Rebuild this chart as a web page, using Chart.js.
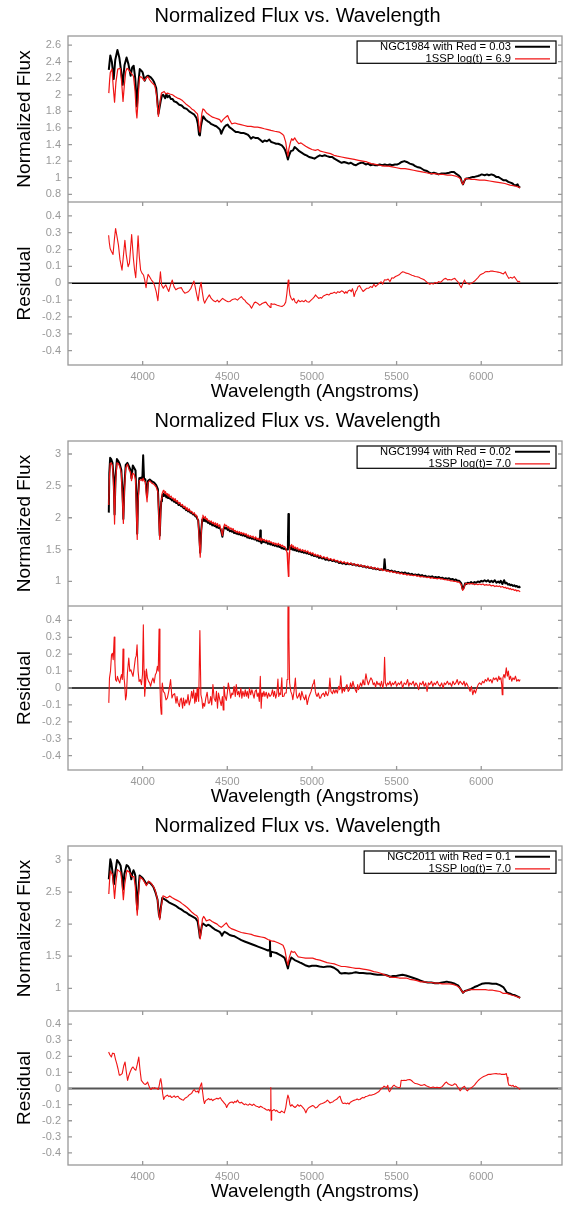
<!DOCTYPE html>
<html>
<head>
<meta charset="utf-8">
<title>Normalized Flux vs. Wavelength</title>
<script src="https://cdn.jsdelivr.net/npm/chart.js@4.4.1/dist/chart.umd.min.js"></script>
<style>
  html, body { margin: 0; padding: 0; background: #fff; overflow: hidden; }
  body { position: relative; width: 563px; height: 1205px; }
  canvas { position: absolute; left: 0; }
</style>
</head>
<body>
<canvas id="flux1" width="595" height="202" style="top:0px"></canvas>
<canvas id="resid1" width="563" height="203" style="top:202px"></canvas>
<canvas id="flux2" width="595" height="201" style="top:405px"></canvas>
<canvas id="resid2" width="563" height="204" style="top:606px"></canvas>
<canvas id="flux3" width="595" height="201" style="top:810px"></canvas>
<canvas id="resid3" width="563" height="194" style="top:1011px"></canvas>
<script>
// ---- data: [wavelength (A), value] ----

// panel 1 : NGC1984 vs 1SSP log(t)=6.9
const ngc1984 = [
  [3800,2.30],[3809,2.475],[3818,2.40],[3829,2.19],[3838,2.42],[3851,2.54],[3862,2.45],[3872,2.30],[3882,2.12],[3893,2.36],
  [3905,2.45],[3916,2.37],[3929,2.23],[3938,2.33],[3947,2.35],[3956,2.20],[3966,1.86],[3975,2.15],[3983,2.31],[3992,2.29],
  [4000,2.27],[4012,2.17],[4022,2.22],[4032,2.23],[4048,2.21],[4060,2.18],[4068,2.15],[4080,2.08],[4088,1.90],[4093,1.77],
  [4100,1.85],[4107,1.93],[4114,1.99],[4121,2.00],[4133,1.96],[4140,2.01],[4147,1.97],[4157,1.99],[4166,1.95],[4176,1.95],
  [4186,1.92],[4200,1.91],[4216,1.88],[4230,1.87],[4245,1.84],[4260,1.83],[4275,1.80],[4290,1.78],[4305,1.76],[4318,1.72],
  [4326,1.65],[4333,1.52],[4338,1.51],[4344,1.62],[4352,1.70],[4358,1.74],[4364,1.72],[4372,1.70],[4384,1.68],[4393,1.67],
  [4403,1.65],[4413,1.64],[4423,1.63],[4435,1.62],[4447,1.60],[4457,1.58],[4464,1.53],[4470,1.56],[4482,1.61],[4492,1.63],
  [4502,1.64],[4512,1.61],[4526,1.59],[4538,1.57],[4551,1.55],[4565,1.55],[4581,1.54],[4595,1.54],[4608,1.53],[4620,1.52],
  [4630,1.50],[4640,1.47],[4652,1.49],[4665,1.48],[4679,1.48],[4692,1.46],[4709,1.43],[4720,1.45],[4734,1.44],[4748,1.46],
  [4760,1.43],[4775,1.42],[4788,1.41],[4800,1.41],[4812,1.40],[4822,1.39],[4834,1.36],[4842,1.33],[4850,1.28],[4858,1.22],
  [4865,1.27],[4875,1.32],[4888,1.33],[4898,1.37],[4910,1.35],[4925,1.32],[4941,1.30],[4955,1.28],[4968,1.27],[4983,1.25],
  [5000,1.24],[5015,1.23],[5030,1.25],[5047,1.27],[5060,1.26],[5075,1.27],[5089,1.26],[5105,1.25],[5120,1.25],[5132,1.23],
  [5150,1.21],[5165,1.19],[5175,1.18],[5190,1.19],[5205,1.18],[5217,1.17],[5230,1.18],[5245,1.16],[5260,1.15],[5275,1.17],
  [5290,1.18],[5302,1.18],[5318,1.16],[5332,1.17],[5345,1.15],[5360,1.16],[5373,1.15],[5387,1.15],[5400,1.16],[5415,1.15],
  [5430,1.16],[5445,1.15],[5460,1.16],[5473,1.15],[5490,1.16],[5505,1.16],[5515,1.17],[5530,1.19],[5546,1.20],[5560,1.19],
  [5578,1.17],[5595,1.16],[5610,1.14],[5621,1.13],[5640,1.12],[5663,1.09],[5680,1.08],[5695,1.06],[5706,1.05],[5720,1.06],
  [5735,1.05],[5748,1.04],[5765,1.05],[5790,1.05],[5810,1.06],[5825,1.07],[5837,1.07],[5850,1.05],[5865,1.03],[5878,1.00],
  [5885,0.95],[5892,0.92],[5900,0.96],[5910,0.99],[5918,0.99],[5935,1.00],[5950,1.01],[5960,1.01],[5980,1.02],[5993,1.03],
  [6003,1.04],[6020,1.03],[6034,1.04],[6045,1.03],[6060,1.04],[6075,1.03],[6088,1.01],[6100,1.01],[6115,0.99],[6130,0.97],
  [6145,0.97],[6160,0.95],[6173,0.94],[6185,0.93],[6195,0.91],[6205,0.91],[6215,0.92],[6222,0.89],[6230,0.88]
];
const ssp69 = [
  [3800,2.02],[3805,2.18],[3809,2.27],[3819,2.31],[3826,2.10],[3834,1.91],[3842,2.15],[3853,2.31],[3868,2.32],[3876,2.15],
  [3884,1.92],[3892,2.12],[3900,2.28],[3908,2.32],[3918,2.30],[3928,2.27],[3937,2.25],[3946,2.22],[3955,2.05],[3962,1.80],
  [3966,1.72],[3972,1.90],[3978,2.12],[3983,2.22],[3995,2.21],[4002,2.19],[4010,2.17],[4020,2.20],[4030,2.22],[4042,2.18],
  [4053,2.15],[4063,2.13],[4072,2.11],[4082,2.00],[4089,1.82],[4093,1.74],[4099,1.85],[4105,1.95],[4111,2.02],[4119,2.03],
  [4127,2.04],[4137,2.01],[4147,2.02],[4160,2.01],[4176,2.00],[4190,1.98],[4206,1.96],[4220,1.95],[4235,1.93],[4255,1.89],
  [4275,1.86],[4290,1.83],[4305,1.81],[4318,1.78],[4324,1.77],[4330,1.68],[4335,1.57],[4338,1.55],[4343,1.65],[4350,1.78],
  [4356,1.83],[4363,1.82],[4370,1.80],[4378,1.78],[4384,1.77],[4398,1.75],[4413,1.73],[4428,1.72],[4443,1.71],[4455,1.70],
  [4464,1.67],[4475,1.70],[4490,1.73],[4502,1.75],[4512,1.70],[4526,1.65],[4545,1.66],[4561,1.65],[4580,1.64],[4600,1.63],
  [4620,1.62],[4640,1.62],[4660,1.61],[4679,1.61],[4700,1.60],[4719,1.59],[4740,1.58],[4758,1.57],[4780,1.56],[4807,1.55],
  [4822,1.53],[4833,1.51],[4845,1.43],[4852,1.33],[4858,1.26],[4864,1.35],[4872,1.42],[4880,1.47],[4888,1.45],[4898,1.48],
  [4910,1.44],[4922,1.41],[4935,1.42],[4948,1.40],[4963,1.38],[4980,1.36],[5000,1.34],[5020,1.33],[5035,1.34],[5050,1.32],
  [5070,1.31],[5090,1.30],[5110,1.29],[5130,1.27],[5150,1.26],[5175,1.25],[5200,1.24],[5225,1.23],[5250,1.22],[5275,1.21],
  [5300,1.20],[5325,1.19],[5350,1.17],[5375,1.16],[5400,1.15],[5425,1.14],[5450,1.14],[5475,1.13],[5500,1.12],[5525,1.11],
  [5550,1.11],[5575,1.10],[5600,1.09],[5625,1.08],[5650,1.07],[5675,1.06],[5700,1.05],[5725,1.05],[5750,1.04],[5775,1.04],
  [5800,1.03],[5825,1.03],[5850,1.02],[5870,1.00],[5882,0.97],[5890,0.92],[5897,0.94],[5905,0.99],[5918,0.99],[5940,0.98],
  [5960,0.98],[5990,0.97],[6020,0.97],[6050,0.96],[6080,0.95],[6110,0.94],[6140,0.93],[6170,0.91],[6200,0.90],[6230,0.88]
];
const resid1984 = [
  [3799,0.285],[3803,0.24],[3808,0.206],[3815,0.19],[3825,0.171],[3833,0.26],[3840,0.325],[3848,0.28],[3857,0.226],[3866,0.14],
  [3878,0.078],[3886,0.16],[3895,0.255],[3903,0.17],[3914,0.098],[3922,0.12],[3935,0.289],[3945,0.15],[3952,0.08],[3959,0.033],
  [3966,0.15],[3973,0.281],[3980,0.16],[3988,0.078],[3996,0.06],[4005,0.049],[4012,0.02],[4020,-0.026],[4026,0.02],[4032,0.053],
  [4040,0.04],[4052,0.019],[4060,0.01],[4069,-0.01],[4080,-0.05],[4090,-0.104],[4097,-0.02],[4105,0.068],[4112,-0.01],[4122,-0.03],
  [4128,-0.02],[4137,-0.01],[4145,-0.03],[4154,-0.049],[4165,-0.01],[4175,0.019],[4185,-0.02],[4196,-0.039],[4210,-0.03],[4228,-0.026],
  [4238,-0.045],[4249,-0.059],[4260,-0.055],[4271,-0.049],[4285,-0.03],[4297,0.0],[4303,0.013],[4310,-0.02],[4320,-0.07],[4328,-0.104],
  [4337,-0.03],[4345,0.005],[4352,-0.05],[4360,-0.10],[4366,-0.118],[4375,-0.10],[4384,-0.085],[4394,-0.069],[4405,-0.09],[4419,-0.104],
  [4430,-0.11],[4441,-0.10],[4451,-0.112],[4462,-0.10],[4472,-0.09],[4483,-0.098],[4495,-0.105],[4505,-0.11],[4515,-0.108],[4525,-0.10],
  [4535,-0.095],[4547,-0.092],[4560,-0.10],[4570,-0.09],[4583,-0.079],[4595,-0.095],[4603,-0.10],[4611,-0.112],[4620,-0.12],[4632,-0.13],
  [4643,-0.148],[4652,-0.13],[4660,-0.115],[4668,-0.112],[4680,-0.12],[4690,-0.13],[4696,-0.128],[4705,-0.12],[4716,-0.115],[4728,-0.112],
  [4740,-0.13],[4750,-0.138],[4753,-0.144],[4758,-0.12],[4766,-0.125],[4781,-0.124],[4795,-0.13],[4810,-0.135],[4823,-0.138],[4835,-0.13],
  [4845,-0.112],[4852,-0.06],[4857,-0.01],[4860,0.019],[4864,-0.02],[4870,-0.07],[4877,-0.089],[4885,-0.10],[4893,-0.09],[4900,-0.11],
  [4909,-0.118],[4920,-0.10],[4930,-0.11],[4941,-0.104],[4952,-0.11],[4962,-0.10],[4972,-0.11],[4983,-0.112],[4995,-0.10],[5006,-0.09],
  [5015,-0.08],[5021,-0.069],[5030,-0.08],[5040,-0.09],[5050,-0.085],[5057,-0.089],[5068,-0.075],[5080,-0.07],[5089,-0.065],[5100,-0.07],
  [5110,-0.06],[5120,-0.06],[5132,-0.053],[5143,-0.06],[5153,-0.05],[5163,-0.055],[5175,-0.045],[5185,-0.05],[5193,-0.06],[5200,-0.05],
  [5207,-0.059],[5215,-0.045],[5225,-0.04],[5232,-0.05],[5239,-0.032],[5244,-0.05],[5249,-0.079],[5258,-0.05],[5265,-0.04],[5272,-0.02],
  [5281,-0.014],[5290,-0.03],[5302,-0.049],[5312,-0.04],[5323,-0.03],[5334,-0.03],[5345,-0.02],[5356,-0.025],[5366,-0.006],[5376,-0.02],
  [5387,-0.01],[5398,0.0],[5409,0.009],[5418,-0.005],[5428,0.02],[5440,0.019],[5450,0.025],[5461,0.01],[5472,0.033],[5482,0.03],
  [5493,0.04],[5504,0.045],[5515,0.05],[5525,0.06],[5536,0.068],[5546,0.065],[5557,0.06],[5567,0.058],[5578,0.053],[5590,0.048],
  [5600,0.045],[5610,0.04],[5621,0.039],[5632,0.035],[5642,0.03],[5653,0.025],[5664,0.02],[5675,0.01],[5686,0.0],[5696,-0.006],
  [5706,0.0],[5716,-0.005],[5727,0.005],[5737,0.0],[5748,0.01],[5759,0.005],[5770,0.015],[5780,0.025],[5791,0.029],[5801,0.02],
  [5812,0.022],[5823,0.019],[5833,0.025],[5844,0.029],[5855,0.015],[5865,0.005],[5875,-0.015],[5882,-0.026],[5888,-0.01],[5894,0.005],
  [5901,0.019],[5908,0.005],[5918,-0.002],[5929,-0.006],[5940,0.0],[5950,0.005],[5961,0.013],[5972,0.025],[5982,0.035],[5993,0.049],
  [6003,0.055],[6014,0.06],[6025,0.068],[6035,0.07],[6046,0.068],[6056,0.072],[6067,0.072],[6077,0.07],[6088,0.068],[6099,0.066],
  [6110,0.064],[6120,0.06],[6131,0.055],[6142,0.068],[6150,0.05],[6156,0.04],[6163,0.029],[6173,0.035],[6184,0.03],[6195,0.039],
  [6205,0.025],[6216,0.009],[6223,0.012],[6230,0.005]
];

// panel 2 : NGC1994 vs 1SSP log(t)=7.0 (shared wavelength grid, rows of ten)
const wave1994 = [
  3800,3803,3808,3814,3822,3829,3834,3840,3848,3856,  3865,3874,3881,3886,3892,3900,3910,3920,3928,3934,
  3942,3950,3958,3964,3968,3973,3980,3992,3998,4003,  4008,4016,4022,4026,4032,4042,4055,4068,4080,4090,
  4097,4101,4106,4110,4114,4118,4122,4126,4130,4135,  4140,4145,4150,4155,4161,4168,4174,4180,4186,4192,
  4198,4205,4212,4220,4227,4235,4242,4250,4256,4262,  4268,4275,4282,4290,4297,4305,4312,4318,4323,4328,
  4334,4340,4346,4352,4356,4360,4365,4370,4375,4380,  4386,4392,4398,4405,4411,4418,4424,4430,4436,4442,
  4448,4455,4460,4465,4471,4478,4484,4490,4496,4502,  4508,4515,4521,4528,4534,4540,4547,4553,4559,4565,
  4572,4578,4584,4590,4597,4605,4611,4618,4624,4630,  4637,4645,4652,4660,4667,4675,4682,4688,4693,4695,
  4698,4702,4707,4712,4718,4725,4732,4740,4747,4755,  4761,4768,4774,4780,4787,4795,4801,4808,4814,4820,
  4826,4832,4839,4845,4853,4858,4861,4864,4870,4875,  4880,4885,4890,4896,4902,4908,4915,4922,4930,4937,
  4945,4952,4960,4967,4975,4982,4990,4997,5005,5012,  5020,5027,5035,5042,5050,5060,5070,5080,5090,5100,
  5110,5120,5130,5140,5150,5160,5170,5180,5190,5200,  5210,5220,5230,5240,5250,5260,5270,5280,5290,5300,
  5310,5320,5330,5340,5350,5360,5370,5380,5390,5400,  5410,5418,5425,5429,5434,5442,5450,5460,5470,5480,
  5490,5500,5510,5520,5530,5540,5550,5560,5570,5580,  5590,5600,5610,5620,5630,5640,5650,5660,5670,5680,
  5690,5700,5710,5720,5730,5740,5750,5760,5770,5780,  5790,5800,5810,5820,5830,5840,5850,5860,5870,5882,
  5890,5896,5905,5912,5920,5930,5940,5950,5960,5970,  5980,5990,6000,6010,6020,6030,6040,6050,6060,6070,
  6080,6090,6100,6108,6115,6125,6135,6142,6150,6158,  6165,6172,6180,6188,6195,6203,6210,6218,6224,6230
];
const flux1994 = [
  2.08,2.70,2.94,2.92,2.86,2.60,2.05,2.65,2.92,2.89,  2.84,2.75,2.40,1.98,2.50,2.83,2.86,2.80,2.75,2.62,
  2.82,2.78,2.74,2.20,1.75,2.35,2.62,2.63,2.60,2.98,  2.62,2.60,2.45,2.33,2.58,2.60,2.57,2.55,2.51,2.45,
  2.00,1.72,2.10,2.26,2.33,2.36,2.34,2.38,2.35,2.36,  2.32,2.34,2.31,2.33,2.30,2.29,2.27,2.28,2.25,2.26,
  2.23,2.24,2.20,2.21,2.18,2.18,2.15,2.15,2.12,2.13,  2.10,2.11,2.08,2.08,2.05,2.05,2.02,2.02,1.98,1.96,
  1.75,1.45,1.80,1.97,1.95,1.99,1.95,1.97,1.94,1.95,  1.92,1.93,1.90,1.92,1.88,1.90,1.87,1.88,1.85,1.87,
  1.84,1.85,1.82,1.78,1.70,1.83,1.85,1.83,1.84,1.81,  1.82,1.79,1.80,1.78,1.79,1.76,1.77,1.75,1.76,1.74,
  1.75,1.73,1.74,1.72,1.73,1.71,1.72,1.69,1.70,1.68,  1.69,1.67,1.68,1.66,1.67,1.64,1.65,1.63,1.66,1.80,
  1.62,1.60,1.64,1.62,1.63,1.61,1.62,1.59,1.60,1.58,  1.59,1.57,1.58,1.56,1.57,1.55,1.56,1.54,1.55,1.52,
  1.53,1.51,1.52,1.50,1.50,1.60,2.06,1.55,1.53,1.51,  1.54,1.50,1.52,1.49,1.51,1.48,1.49,1.47,1.48,1.46,
  1.47,1.45,1.46,1.44,1.45,1.43,1.44,1.41,1.42,1.40,  1.41,1.39,1.40,1.37,1.38,1.36,1.37,1.34,1.35,1.33,
  1.34,1.32,1.33,1.31,1.32,1.29,1.30,1.28,1.29,1.27,  1.28,1.27,1.28,1.26,1.27,1.25,1.26,1.24,1.25,1.23,
  1.24,1.22,1.23,1.21,1.22,1.20,1.21,1.19,1.20,1.18,  1.19,1.18,1.20,1.35,1.18,1.17,1.18,1.16,1.17,1.15,
  1.16,1.14,1.15,1.13,1.14,1.13,1.14,1.12,1.13,1.11,  1.12,1.10,1.11,1.10,1.11,1.09,1.10,1.08,1.09,1.07,
  1.08,1.07,1.08,1.06,1.07,1.06,1.07,1.05,1.06,1.04,  1.05,1.04,1.05,1.03,1.04,1.02,1.03,1.01,1.01,0.97,
  0.88,0.90,0.97,0.96,0.98,0.97,0.99,0.97,0.99,0.98,  1.00,0.99,1.01,1.00,1.02,1.00,1.02,0.99,1.01,0.99,
  1.02,0.98,1.00,0.98,1.01,0.96,1.02,0.97,0.98,0.95,  0.96,0.94,0.95,0.93,0.94,0.92,0.93,0.91,0.92,0.90
];
const ssp70a = [
  2.20,2.60,2.85,2.86,2.82,2.45,1.90,2.55,2.86,2.85,  2.80,2.70,2.25,1.91,2.40,2.78,2.84,2.75,2.72,2.58,
  2.70,2.68,2.60,2.00,1.66,2.25,2.58,2.60,2.58,2.62,  2.58,2.56,2.35,2.25,2.55,2.58,2.54,2.52,2.48,2.40,
  1.90,1.66,2.05,2.30,2.37,2.40,2.43,2.42,2.38,2.41,  2.36,2.38,2.34,2.37,2.32,2.34,2.30,2.31,2.27,2.30,
  2.25,2.27,2.22,2.24,2.19,2.21,2.16,2.18,2.13,2.16,  2.11,2.14,2.09,2.10,2.06,2.08,2.03,2.04,2.00,1.95,
  1.65,1.38,1.75,2.00,2.04,2.01,1.99,2.02,1.97,1.99,  1.95,1.96,1.93,1.95,1.91,1.93,1.89,1.92,1.88,1.91,
  1.86,1.89,1.84,1.80,1.72,1.85,1.90,1.87,1.88,1.84,  1.86,1.82,1.84,1.81,1.83,1.79,1.80,1.77,1.79,1.76,
  1.78,1.75,1.77,1.74,1.76,1.73,1.75,1.71,1.73,1.70,  1.72,1.69,1.71,1.67,1.70,1.66,1.68,1.65,1.67,1.68,
  1.66,1.64,1.67,1.65,1.66,1.63,1.65,1.62,1.64,1.61,  1.62,1.59,1.61,1.58,1.60,1.57,1.60,1.57,1.58,1.55,
  1.57,1.54,1.55,1.52,1.45,1.20,1.08,1.25,1.55,1.56,  1.58,1.53,1.56,1.52,1.54,1.51,1.53,1.49,1.51,1.48,
  1.50,1.47,1.49,1.46,1.48,1.44,1.46,1.43,1.45,1.41,  1.43,1.40,1.42,1.39,1.41,1.37,1.39,1.36,1.38,1.34,
  1.36,1.33,1.35,1.32,1.33,1.30,1.32,1.29,1.31,1.28,  1.30,1.27,1.29,1.26,1.28,1.25,1.27,1.24,1.26,1.23,
  1.25,1.22,1.24,1.21,1.23,1.20,1.22,1.19,1.21,1.18,  1.20,1.17,1.18,1.18,1.18,1.16,1.17,1.15,1.16,1.14,
  1.15,1.13,1.14,1.12,1.13,1.11,1.12,1.10,1.11,1.10,  1.10,1.09,1.10,1.08,1.09,1.07,1.08,1.07,1.07,1.06,
  1.07,1.05,1.06,1.05,1.05,1.04,1.05,1.04,1.04,1.03,  1.03,1.02,1.02,1.01,1.01,1.00,1.00,0.99,0.99,0.95,
  0.86,0.88,0.96,0.97,0.96,0.97,0.96,0.97,0.95,0.96,  0.95,0.96,0.95,0.96,0.94,0.95,0.94,0.95,0.93,0.94,
  0.92,0.93,0.92,0.93,0.91,0.92,0.90,0.91,0.89,0.90,  0.88,0.89,0.87,0.88,0.86,0.87,0.85,0.86,0.85,0.84
];
const resid1994 = [
  [3800,-0.088],[3804,0.059],[3810,0.10],[3816,0.197],[3821,0.205],[3826,0.167],[3832,0.301],[3836,0.15],[3840,0.049],[3846,0.04],
  [3851,0.069],[3858,0.045],[3865,0.03],[3870,0.06],[3875,0.079],[3880,0.05],[3884,0.23],[3889,0.07],[3894,0.02],[3899,-0.07],
  [3904,-0.045],[3910,0.09],[3918,0.177],[3924,0.10],[3930,0.108],[3936,0.09],[3943,0.069],[3950,0.12],[3957,0.177],[3962,0.19],
  [3967,0.256],[3973,0.10],[3979,0.039],[3986,0.05],[3993,0.02],[3999,0.08],[4004,0.374],[4008,0.10],[4012,-0.049],[4017,0.02],
  [4022,0.112],[4028,0.06],[4035,0.039],[4041,0.03],[4047,0.01],[4054,0.04],[4061,0.059],[4068,0.03],[4075,0.079],[4081,0.09],
  [4087,0.128],[4092,0.10],[4097,0.348],[4102,0.03],[4106,-0.108],[4110,-0.155],[4113,-0.02],[4116,0.03],[4122,-0.02],[4130,-0.03],
  [4138,-0.07],[4146,-0.059],[4152,-0.03],[4159,0.01],[4165,0.05],[4173,-0.059],[4180,-0.04],[4189,-0.033],[4197,-0.09],[4203,-0.05],
  [4209,-0.088],[4217,-0.11],[4222,-0.07],[4228,-0.059],[4236,-0.12],[4241,-0.06],[4248,-0.104],[4255,-0.07],[4261,-0.09],[4268,-0.039],
  [4275,-0.10],[4283,-0.069],[4289,-0.02],[4295,-0.06],[4301,-0.01],[4308,-0.09],[4313,-0.03],[4317,-0.079],[4322,0.0],[4326,-0.049],
  [4331,-0.08],[4338,0.34],[4344,-0.04],[4350,-0.069],[4355,-0.12],[4360,-0.09],[4366,-0.108],[4373,-0.06],[4381,-0.025],[4388,-0.09],
  [4395,-0.088],[4402,-0.05],[4408,-0.10],[4415,0.02],[4422,-0.06],[4430,-0.079],[4436,-0.02],[4442,-0.12],[4448,-0.03],[4456,-0.07],
  [4464,-0.104],[4471,-0.05],[4476,-0.13],[4480,0.01],[4487,-0.05],[4494,-0.073],[4500,-0.03],[4506,0.03],[4513,-0.01],[4520,-0.06],
  [4527,-0.03],[4533,-0.039],[4540,0.01],[4547,-0.05],[4553,0.02],[4560,-0.04],[4567,-0.02],[4572,-0.053],[4580,0.0],[4586,-0.06],
  [4592,-0.02],[4600,-0.05],[4606,-0.01],[4612,-0.049],[4618,-0.02],[4625,-0.06],[4631,0.0],[4638,-0.04],[4645,-0.01],[4651,-0.033],
  [4658,-0.06],[4664,-0.02],[4671,-0.01],[4677,-0.05],[4683,-0.03],[4689,-0.08],[4695,0.069],[4700,-0.12],[4705,-0.03],[4710,-0.049],
  [4716,-0.02],[4722,-0.05],[4730,-0.025],[4737,-0.06],[4744,-0.03],[4752,-0.05],[4760,-0.039],[4767,-0.01],[4773,-0.05],[4779,-0.02],
  [4786,-0.06],[4793,-0.03],[4799,0.053],[4804,-0.05],[4810,-0.03],[4815,-0.039],[4822,0.06],[4826,-0.05],[4834,-0.049],[4840,-0.03],
  [4848,-0.03],[4853,0.05],[4858,0.40],[4861,0.97],[4864,0.30],[4868,0.03],[4875,-0.02],[4882,-0.039],[4887,-0.069],[4894,-0.02],
  [4902,0.059],[4908,-0.04],[4913,-0.06],[4919,-0.05],[4926,-0.03],[4933,-0.07],[4940,-0.02],[4948,-0.05],[4957,-0.069],[4964,-0.04],
  [4972,-0.098],[4980,-0.06],[4987,-0.04],[4995,-0.02],[5004,0.019],[5010,0.03],[5014,0.049],[5020,-0.02],[5025,-0.04],[5030,-0.05],
  [5038,-0.03],[5045,-0.06],[5051,-0.059],[5058,-0.04],[5068,-0.03],[5075,-0.05],[5082,-0.02],[5088,-0.04],[5093,-0.045],[5100,-0.02],
  [5106,0.059],[5112,-0.02],[5121,-0.034],[5128,-0.01],[5135,-0.03],[5142,-0.01],[5150,-0.03],[5158,0.01],[5164,-0.01],[5170,0.072],
  [5174,0.02],[5178,-0.03],[5185,0.0],[5192,-0.02],[5199,0.005],[5207,0.02],[5214,-0.02],[5221,-0.01],[5228,0.03],[5235,0.0],
  [5242,0.039],[5249,0.01],[5256,-0.01],[5263,-0.026],[5270,0.02],[5275,-0.01],[5280,0.005],[5287,0.03],[5294,0.01],[5302,0.049],
  [5308,0.02],[5313,0.04],[5319,0.084],[5325,0.05],[5333,0.019],[5340,0.04],[5348,0.06],[5355,0.049],[5362,0.02],[5369,0.03],
  [5376,0.005],[5383,0.04],[5390,0.02],[5397,0.029],[5404,0.01],[5411,0.04],[5418,0.0],[5424,0.03],[5429,0.182],[5434,0.03],
  [5440,0.01],[5447,0.03],[5454,0.02],[5461,0.04],[5468,0.01],[5475,0.03],[5482,0.02],[5493,0.04],[5500,0.01],[5510,0.03],
  [5518,0.02],[5528,0.04],[5535,0.0],[5545,0.03],[5555,0.02],[5565,0.05],[5572,0.01],[5578,0.03],[5588,0.02],[5598,0.04],
  [5606,0.01],[5614,0.03],[5621,0.02],[5630,-0.01],[5638,0.03],[5648,0.02],[5656,0.04],[5663,0.01],[5672,0.03],[5680,-0.02],
  [5688,0.03],[5696,0.02],[5706,0.04],[5714,0.01],[5722,0.03],[5730,0.02],[5740,0.04],[5748,0.02],[5757,0.01],[5766,0.03],
  [5775,0.0],[5782,0.03],[5790,0.02],[5800,0.04],[5808,0.02],[5816,0.03],[5825,0.01],[5833,0.04],[5842,0.02],[5850,0.03],
  [5858,0.05],[5866,0.02],[5875,0.04],[5882,0.03],[5890,0.02],[5898,0.04],[5905,0.01],[5912,0.03],[5918,0.02],[5926,0.0],
  [5934,-0.02],[5942,0.01],[5950,-0.04],[5958,-0.01],[5966,-0.03],[5974,0.0],[5982,0.02],[5990,0.03],[6000,0.02],[6008,0.04],
  [6016,0.03],[6024,0.05],[6032,0.04],[6040,0.06],[6048,0.04],[6056,0.05],[6064,0.03],[6072,0.06],[6080,0.05],[6088,0.06],
  [6096,0.04],[6104,0.07],[6109,0.05],[6116,0.06],[6121,0.02],[6124,-0.04],[6128,0.06],[6134,0.08],[6140,0.06],[6148,0.12],
  [6154,0.07],[6160,0.10],[6166,0.05],[6173,0.07],[6180,0.04],[6187,0.06],[6195,0.05],[6202,0.07],[6210,0.04],[6218,0.05],
  [6224,0.04],[6230,0.05]
];

// panel 3 : NGC2011 vs 1SSP log(t)=7.0
const ngc2011 = [
  [3800,2.70],[3809,3.01],[3815,2.95],[3821,2.83],[3830,2.62],[3838,2.80],[3849,3.00],[3860,2.96],[3870,2.91],[3878,2.75],
  [3884,2.54],[3892,2.78],[3905,2.92],[3915,2.90],[3923,2.86],[3933,2.70],[3940,2.80],[3946,2.84],[3952,2.80],[3957,2.75],
  [3963,2.45],[3968,2.23],[3974,2.50],[3982,2.76],[3990,2.74],[4000,2.72],[4010,2.68],[4022,2.62],[4035,2.66],[4045,2.64],
  [4055,2.61],[4065,2.57],[4075,2.50],[4088,2.38],[4096,2.15],[4101,2.10],[4107,2.25],[4116,2.41],[4128,2.39],[4140,2.37],
  [4155,2.34],[4170,2.32],[4185,2.30],[4199,2.28],[4214,2.25],[4228,2.23],[4243,2.20],[4258,2.18],[4272,2.15],[4287,2.13],
  [4300,2.11],[4313,2.09],[4325,2.04],[4333,1.90],[4338,1.79],[4344,1.88],[4350,1.98],[4356,2.01],[4366,1.99],[4376,1.97],
  [4386,1.99],[4396,1.98],[4410,1.95],[4425,1.92],[4440,1.90],[4455,1.88],[4463,1.85],[4469,1.82],[4476,1.86],[4484,1.88],
  [4498,1.86],[4514,1.83],[4528,1.82],[4543,1.81],[4563,1.78],[4583,1.75],[4602,1.73],[4622,1.71],[4641,1.69],[4661,1.67],
  [4681,1.65],[4701,1.63],[4720,1.61],[4740,1.59],[4750,1.60],[4752,1.74],[4754,1.50],[4758,1.57],[4775,1.56],[4790,1.55],
  [4805,1.53],[4819,1.51],[4830,1.49],[4839,1.47],[4848,1.40],[4858,1.31],[4866,1.40],[4878,1.48],[4888,1.46],[4898,1.44],
  [4915,1.42],[4930,1.40],[4940,1.39],[4960,1.36],[4983,1.34],[5000,1.35],[5025,1.35],[5045,1.34],[5068,1.33],[5090,1.34],
  [5110,1.34],[5130,1.32],[5153,1.28],[5165,1.24],[5174,1.23],[5195,1.24],[5217,1.23],[5240,1.24],[5259,1.25],[5280,1.24],
  [5302,1.24],[5325,1.23],[5344,1.23],[5365,1.22],[5387,1.21],[5410,1.21],[5430,1.21],[5445,1.20],[5461,1.18],[5475,1.19],
  [5493,1.19],[5510,1.20],[5535,1.21],[5555,1.20],[5578,1.18],[5600,1.16],[5621,1.14],[5642,1.12],[5663,1.10],[5685,1.09],
  [5706,1.09],[5727,1.08],[5748,1.08],[5770,1.09],[5790,1.10],[5801,1.10],[5820,1.09],[5844,1.07],[5865,1.04],[5880,0.98],
  [5892,0.93],[5905,0.96],[5918,0.97],[5940,0.99],[5960,1.02],[5980,1.04],[6003,1.07],[6025,1.08],[6045,1.08],[6065,1.07],
  [6088,1.07],[6110,1.05],[6130,1.02],[6140,0.98],[6152,0.93],[6168,0.92],[6184,0.90],[6200,0.89],[6216,0.87],[6230,0.85]
];
const ssp70b = [
  [3800,2.47],[3805,2.70],[3809,2.83],[3815,2.80],[3821,2.78],[3828,2.60],[3834,2.40],[3841,2.62],[3851,2.85],[3860,2.83],
  [3870,2.81],[3878,2.65],[3886,2.38],[3894,2.62],[3907,2.84],[3916,2.82],[3925,2.80],[3936,2.74],[3948,2.74],[3956,2.60],
  [3962,2.35],[3968,2.14],[3975,2.45],[3984,2.74],[3992,2.72],[4000,2.70],[4010,2.66],[4022,2.60],[4035,2.67],[4045,2.65],
  [4055,2.62],[4065,2.58],[4075,2.52],[4088,2.38],[4096,2.15],[4101,2.07],[4108,2.25],[4120,2.44],[4130,2.43],[4140,2.41],
  [4150,2.42],[4160,2.44],[4175,2.41],[4189,2.39],[4204,2.37],[4219,2.35],[4233,2.32],[4248,2.29],[4263,2.26],[4278,2.22],
  [4293,2.18],[4307,2.15],[4320,2.13],[4327,2.10],[4334,1.90],[4340,1.77],[4346,1.90],[4353,2.08],[4360,2.12],[4368,2.09],
  [4376,2.05],[4386,2.06],[4396,2.07],[4410,2.04],[4425,2.02],[4440,2.00],[4452,1.97],[4464,1.95],[4478,1.98],[4494,2.02],
  [4508,1.96],[4523,1.93],[4543,1.91],[4563,1.89],[4583,1.87],[4602,1.86],[4622,1.85],[4642,1.84],[4661,1.82],[4681,1.81],
  [4700,1.80],[4720,1.79],[4740,1.76],[4760,1.74],[4780,1.73],[4799,1.71],[4815,1.69],[4829,1.67],[4840,1.60],[4850,1.45],
  [4858,1.36],[4866,1.48],[4878,1.58],[4888,1.56],[4898,1.57],[4910,1.52],[4919,1.49],[4940,1.48],[4962,1.47],[4983,1.47],
  [5004,1.47],[5025,1.45],[5047,1.44],[5068,1.42],[5089,1.40],[5110,1.39],[5132,1.38],[5153,1.36],[5174,1.34],[5195,1.34],
  [5217,1.33],[5238,1.32],[5259,1.31],[5280,1.31],[5302,1.30],[5323,1.29],[5344,1.28],[5365,1.26],[5387,1.25],[5410,1.23],
  [5430,1.21],[5450,1.19],[5472,1.17],[5493,1.17],[5515,1.16],[5535,1.16],[5557,1.16],[5578,1.14],[5600,1.13],[5621,1.12],
  [5642,1.10],[5663,1.10],[5685,1.09],[5706,1.09],[5727,1.08],[5748,1.08],[5769,1.07],[5790,1.07],[5812,1.07],[5833,1.06],
  [5855,1.04],[5872,1.01],[5885,0.96],[5892,0.93],[5900,0.95],[5918,0.97],[5940,0.98],[5960,0.98],[5980,0.98],[6003,0.98],
  [6025,0.98],[6045,0.97],[6068,0.97],[6088,0.96],[6110,0.95],[6130,0.92],[6150,0.92],[6173,0.90],[6200,0.88],[6230,0.85]
];
const resid2011 = [
  [3799,0.227],[3806,0.21],[3815,0.196],[3822,0.22],[3832,0.217],[3840,0.18],[3847,0.155],[3855,0.12],[3862,0.083],[3870,0.085],
  [3879,0.093],[3888,0.14],[3896,0.165],[3904,0.10],[3911,0.051],[3918,0.08],[3926,0.103],[3935,0.125],[3943,0.134],[3952,0.12],
  [3960,0.114],[3968,0.15],[3977,0.196],[3984,0.12],[3992,0.051],[4000,0.04],[4007,0.031],[4015,0.025],[4022,0.03],[4029,0.041],
  [4036,0.02],[4043,0.0],[4050,-0.006],[4057,0.005],[4064,0.0],[4071,0.006],[4078,0.0],[4085,0.0],[4092,-0.006],[4098,0.02],
  [4104,0.055],[4107,0.062],[4112,0.03],[4118,-0.03],[4124,-0.068],[4132,-0.05],[4140,-0.045],[4146,-0.041],[4155,-0.05],[4163,-0.045],
  [4170,-0.055],[4178,-0.052],[4186,-0.045],[4194,-0.055],[4201,-0.05],[4209,-0.048],[4217,-0.06],[4225,-0.065],[4233,-0.07],[4241,-0.072],
  [4250,-0.06],[4258,-0.055],[4266,-0.05],[4273,-0.041],[4281,-0.035],[4289,-0.03],[4297,-0.015],[4305,-0.006],[4313,-0.02],[4320,-0.02],
  [4326,-0.015],[4331,-0.027],[4336,0.0],[4342,0.02],[4348,0.035],[4354,-0.02],[4360,-0.07],[4365,-0.093],[4372,-0.075],[4380,-0.07],
  [4390,-0.062],[4398,-0.07],[4406,-0.065],[4414,-0.075],[4422,-0.068],[4430,-0.065],[4438,-0.06],[4446,-0.065],[4458,-0.056],[4466,-0.07],
  [4474,-0.08],[4482,-0.09],[4490,-0.10],[4496,-0.118],[4504,-0.10],[4512,-0.09],[4520,-0.085],[4528,-0.083],[4536,-0.09],[4544,-0.08],
  [4552,-0.085],[4560,-0.072],[4568,-0.085],[4576,-0.09],[4584,-0.085],[4592,-0.093],[4600,-0.10],[4608,-0.095],[4616,-0.10],[4624,-0.103],
  [4632,-0.095],[4640,-0.10],[4648,-0.105],[4656,-0.097],[4664,-0.105],[4672,-0.11],[4680,-0.112],[4688,-0.118],[4696,-0.11],[4704,-0.115],
  [4712,-0.12],[4720,-0.124],[4728,-0.13],[4736,-0.135],[4744,-0.13],[4750,-0.139],[4754,-0.13],[4757,0.006],[4759,-0.196],[4762,-0.14],
  [4770,-0.135],[4777,-0.13],[4785,-0.14],[4792,-0.135],[4800,-0.145],[4805,-0.145],[4812,-0.15],[4820,-0.14],[4828,-0.145],[4837,-0.151],
  [4845,-0.12],[4852,-0.07],[4858,-0.041],[4864,-0.06],[4870,-0.10],[4875,-0.11],[4882,-0.10],[4890,-0.11],[4900,-0.118],[4908,-0.11],
  [4916,-0.10],[4925,-0.11],[4932,-0.103],[4940,-0.11],[4948,-0.12],[4956,-0.13],[4964,-0.151],[4972,-0.13],[4980,-0.12],[4988,-0.115],
  [4996,-0.11],[5004,-0.105],[5012,-0.11],[5020,-0.12],[5028,-0.118],[5036,-0.11],[5044,-0.10],[5052,-0.095],[5060,-0.093],[5068,-0.09],
  [5076,-0.085],[5084,-0.08],[5091,-0.072],[5099,-0.08],[5107,-0.09],[5115,-0.085],[5123,-0.083],[5131,-0.075],[5140,-0.07],[5148,-0.065],
  [5156,-0.055],[5162,-0.05],[5166,-0.048],[5172,-0.07],[5180,-0.09],[5187,-0.093],[5195,-0.09],[5203,-0.095],[5211,-0.09],[5219,-0.097],
  [5227,-0.085],[5235,-0.08],[5243,-0.075],[5251,-0.072],[5259,-0.07],[5267,-0.065],[5275,-0.07],[5283,-0.068],[5292,-0.06],[5300,-0.055],
  [5308,-0.058],[5316,-0.05],[5325,-0.048],[5333,-0.045],[5341,-0.04],[5350,-0.042],[5358,-0.038],[5368,-0.035],[5377,-0.03],[5386,-0.025],
  [5394,-0.02],[5402,-0.01],[5410,0.0],[5418,0.005],[5426,0.015],[5434,0.01],[5442,0.006],[5448,0.02],[5453,-0.01],[5458,-0.02],
  [5464,-0.01],[5471,0.005],[5478,0.015],[5485,0.021],[5492,0.015],[5500,0.01],[5508,0.008],[5517,0.006],[5522,0.01],[5527,0.052],
  [5535,0.05],[5545,0.052],[5555,0.05],[5565,0.055],[5578,0.056],[5588,0.05],[5598,0.04],[5610,0.031],[5620,0.03],[5632,0.025],
  [5642,0.02],[5653,0.021],[5664,0.025],[5675,0.018],[5686,0.012],[5696,0.008],[5706,0.006],[5716,0.01],[5727,0.005],[5738,0.008],
  [5748,0.006],[5759,0.006],[5769,0.012],[5779,0.025],[5787,0.035],[5795,0.041],[5803,0.03],[5812,0.025],[5822,0.02],[5833,0.021],
  [5843,0.03],[5852,0.025],[5860,0.01],[5868,0.0],[5875,-0.014],[5882,-0.005],[5888,0.005],[5895,0.01],[5901,0.014],[5908,0.0],
  [5913,-0.01],[5918,-0.014],[5926,-0.005],[5934,0.0],[5942,0.005],[5950,0.012],[5960,0.021],[5970,0.035],[5982,0.05],[5993,0.06],
  [6003,0.068],[6014,0.075],[6025,0.08],[6035,0.085],[6045,0.089],[6055,0.088],[6066,0.09],[6077,0.092],[6088,0.093],[6099,0.09],
  [6110,0.092],[6120,0.088],[6130,0.089],[6140,0.088],[6148,0.093],[6153,0.07],[6158,0.04],[6163,0.021],[6172,0.02],[6180,0.015],
  [6188,0.02],[6195,0.01],[6203,0.015],[6210,0.01],[6216,0.006],[6223,0.0],[6230,-0.006]
];

// tick values
const waveTicks = [4000, 4500, 5000, 5500, 6000];
const fluxTicks1 = [0.8, 1, 1.2, 1.4, 1.6, 1.8, 2, 2.2, 2.4, 2.6];
const fluxTicks23 = [1, 1.5, 2, 2.5, 3];
const residTicks = [-0.4, -0.3, -0.2, -0.1, 0, 0.1, 0.2, 0.3, 0.4];

// ---- styling ----
const FONT = "'Liberation Sans', Arial, Helvetica, sans-serif";
const RED = '#f01414';
const GRAY = '#999999';
const X_MIN = 3559, X_MAX = 6477;
const Y_AXIS_W = 68;

const toXY = pairs => pairs.map(([x, y]) => ({x, y}));
const zip = (xs, ys) => xs.map((x, i) => ({x, y: ys[i]}));
const fmt = v => String(+v.toFixed(2));

// frame, inward ticks and zero line like the gnuplot original
const framePlugin = {
  id: 'frame',
  beforeDatasetsDraw(chart, args, opts) {
    if (!opts.zeroColor) return;
    const {ctx, chartArea: a} = chart;
    const y0 = chart.scales.y.getPixelForValue(0);
    ctx.save();
    ctx.strokeStyle = opts.zeroColor;
    ctx.lineWidth = opts.zeroWidth;
    ctx.beginPath();
    ctx.moveTo(a.left, y0);
    ctx.lineTo(a.right, y0);
    ctx.stroke();
    ctx.restore();
  },
  afterDatasetsDraw(chart, args, opts) {
    const {ctx, chartArea: a, scales} = chart;
    ctx.save();
    ctx.strokeStyle = GRAY;
    ctx.lineWidth = 1.3;
    ctx.strokeRect(a.left, a.top, a.right - a.left, a.bottom - a.top);
    ctx.beginPath();
    scales.y.ticks.forEach(t => {
      const py = scales.y.getPixelForValue(t.value);
      ctx.moveTo(a.left, py); ctx.lineTo(a.left + 4, py);
      ctx.moveTo(a.right, py); ctx.lineTo(a.right - 4, py);
    });
    if (opts.xTicks) {
      scales.x.ticks.forEach(t => {
        const px = scales.x.getPixelForValue(t.value);
        ctx.moveTo(px, a.top); ctx.lineTo(px, a.top + 4);
        ctx.moveTo(px, a.bottom); ctx.lineTo(px, a.bottom - 4);
      });
    }
    ctx.stroke();
    ctx.restore();
  }
};

// boxed key, text right aligned with the line sample after it
const keyPlugin = {
  id: 'key',
  afterDatasetsDraw(chart) {
    const {ctx, chartArea: a} = chart;
    const sets = chart.data.datasets;
    ctx.save();
    ctx.font = '11.2px ' + FONT;
    const textRight = a.right - 51;
    const widest = Math.max(...sets.map(d => ctx.measureText(d.label).width));
    const boxLeft = textRight - widest - 23;
    const boxRight = a.right - 6;
    const boxTop = a.top + 5;
    ctx.strokeStyle = '#000';
    ctx.lineWidth = 1.2;
    ctx.strokeRect(boxLeft, boxTop, boxRight - boxLeft, 22.3);
    sets.forEach((d, i) => {
      const y = boxTop + 5.8 + i * 12;
      ctx.fillStyle = '#000';
      ctx.textAlign = 'right';
      ctx.textBaseline = 'middle';
      ctx.fillText(d.label, textRight, y);
      ctx.strokeStyle = d.borderColor;
      ctx.lineWidth = d.borderWidth;
      ctx.beginPath();
      ctx.moveTo(a.right - 47, y);
      ctx.lineTo(a.right - 12, y);
      ctx.stroke();
    });
    ctx.restore();
  }
};

function yAxis(title, min, max, ticks) {
  return {
    type: 'linear', position: 'left', min: min, max: max,
    afterBuildTicks: s => { s.ticks = ticks.map(v => ({value: v})); },
    afterFit: s => { s.width = Y_AXIS_W; s.paddingTop = 0; s.paddingBottom = 0; },
    grid: {display: false, drawTicks: false},
    border: {display: false},
    ticks: {color: GRAY, font: {family: FONT, size: 11}, padding: 7, autoSkip: false, callback: v => fmt(v)},
    title: {display: true, text: title, color: '#000', font: {family: FONT, size: 19}, padding: {top: 13, bottom: 0}}
  };
}

const baseOptions = {
  responsive: false,
  animation: false,
  devicePixelRatio: 1,
  events: [],
  elements: {point: {radius: 0}, line: {tension: 0, borderJoinStyle: 'round'}}
};

function fluxChart(id, obs, model, yMin, yMax, ticks) {
  return new Chart(document.getElementById(id), {
    type: 'line',
    data: {datasets: [
      {label: obs.label, data: obs.data, borderColor: '#000', borderWidth: 2, order: 2, yAxisID: 'y'},
      {label: model.label, data: model.data, borderColor: RED, borderWidth: 1.2, order: 1, yAxisID: 'y'}
    ]},
    options: {
      ...baseOptions,
      layout: {padding: 0},
      plugins: {
        legend: {display: false},
        tooltip: {enabled: false},
        title: {display: true, text: 'Normalized Flux vs. Wavelength', color: '#000',
          font: {family: FONT, size: 20, weight: 'normal'}, padding: {top: 4.5, bottom: 7.5}},
        frame: {xTicks: false}
      },
      scales: {
        x: {type: 'linear', min: X_MIN, max: X_MAX, display: false},
        y: yAxis('Normalized Flux', yMin, yMax, ticks),
        // empty right gutter so the centred title sits where the original has it
        gutter: {type: 'linear', position: 'right', display: true,
          afterFit: s => { s.width = 33; s.paddingTop = 0; s.paddingBottom = 0; },
          grid: {display: false, drawTicks: false}, border: {display: false}, ticks: {display: false}}
      }
    },
    plugins: [framePlugin, keyPlugin]
  });
}

function residChart(id, data, yMin, yMax, zeroColor, zeroWidth) {
  return new Chart(document.getElementById(id), {
    type: 'line',
    data: {datasets: [
      {label: 'Residual', data: data, borderColor: RED, borderWidth: 1.1, yAxisID: 'y'}
    ]},
    options: {
      ...baseOptions,
      layout: {padding: {right: 1}},
      plugins: {
        legend: {display: false},
        tooltip: {enabled: false},
        frame: {xTicks: true, zeroColor: zeroColor, zeroWidth: zeroWidth}
      },
      scales: {
        x: {
          type: 'linear', position: 'bottom', min: X_MIN, max: X_MAX,
          afterBuildTicks: s => { s.ticks = waveTicks.map(v => ({value: v})); },
          afterFit: s => { s.height = 40; s.paddingLeft = 0; s.paddingRight = 0; },
          grid: {display: false, drawTicks: false},
          border: {display: false},
          ticks: {color: GRAY, font: {family: FONT, size: 11}, padding: 5, autoSkip: false, maxRotation: 0, callback: v => String(v)},
          title: {display: true, text: 'Wavelength (Angstroms)', color: '#000', font: {family: FONT, size: 19}, padding: {top: 0, bottom: 2}}
        },
        y: yAxis('Residual', yMin, yMax, residTicks)
      }
    },
    plugins: [framePlugin]
  });
}

fluxChart('flux1',
  {label: 'NGC1984 with Red = 0.03', data: toXY(ngc1984)},
  {label: '1SSP log(t) = 6.9', data: toXY(ssp69)},
  0.707, 2.709, fluxTicks1);
residChart('resid1', toXY(resid1984), -0.485, 0.482, '#000', 1.5);

fluxChart('flux2',
  {label: 'NGC1994 with Red = 0.02', data: zip(wave1994, flux1994)},
  {label: '1SSP log(t)= 7.0', data: zip(wave1994, ssp70a)},
  0.615, 3.204, fluxTicks23);
residChart('resid2', toXY(resid1994), -0.485, 0.485, '#000', 1.5);

fluxChart('flux3',
  {label: 'NGC2011 with Red = 0.1', data: toXY(ngc2011)},
  {label: '1SSP log(t)= 7.0', data: toXY(ssp70b)},
  0.646, 3.218, fluxTicks23);
residChart('resid3', toXY(resid2011), -0.475, 0.482, '#555', 2);
</script>
</body>
</html>
